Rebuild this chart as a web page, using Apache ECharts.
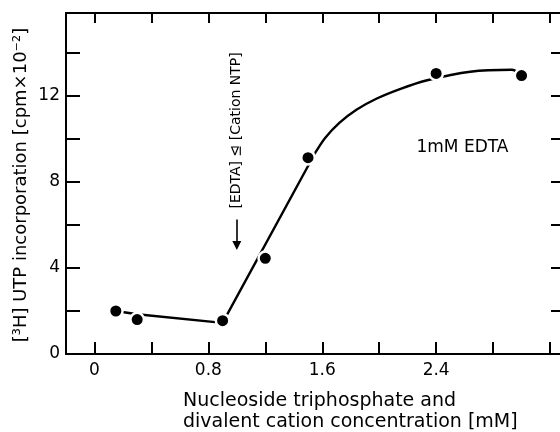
<!DOCTYPE html>
<html><head><meta charset="utf-8">
<script src="https://cdn.jsdelivr.net/npm/echarts@6/dist/echarts.min.js"></script>
<style>html,body{margin:0;padding:0;background:#fff}#c{width:560px;height:432px}</style>
</head><body><div id="c"></div>
<script>
// measured data points
const pointX = [0.15, 0.3, 0.9, 1.2, 1.5, 2.4, 3.0];
const pointY = [2.0, 1.6, 1.55, 4.45, 9.13, 13.05, 12.95];
// straight (hand-drawn) part of the fitted line
const lineX = [0.15, 0.3, 0.9, 1.55];
const lineY = [2.0, 1.85, 1.45, 9.35];
// curved part of the fitted line
const curveX = [1.55, 1.62, 1.72, 1.84, 1.98, 2.15, 2.33, 2.64, 2.93, 3.0];
const curveY = [9.35, 10.05, 10.75, 11.36, 11.87, 12.33, 12.72, 13.13, 13.22, 12.98];
// ticks and labels
const xTicks = [0, 0.4, 0.8, 1.2, 1.6, 2.0, 2.4, 2.8, 3.2];
const xTickLabels = [0, 0.8, 1.6, 2.4];
const yTicks = [0, 2, 4, 6, 8, 10, 12, 14];
const yRightTicks = [2, 4, 6, 8, 10, 12, 14];
const yTickLabels = [0, 4, 8, 12];

const FONT = '"DejaVu Sans", sans-serif';
const zip = (a, b) => a.map((v, i) => [v, b[i]]);

const chart = echarts.init(document.getElementById('c'), null, {renderer: 'canvas'});
const axisLineStyle = {color: '#000', width: 2};
const option = {
  animation: false,
  backgroundColor: '#fff',
  grid: {left: 66, top: 13, right: 0, bottom: 78},
  xAxis: [{
    type: 'value', min: -0.2, max: 3.27, position: 'bottom',
    axisLine: {show: true, onZero: false, lineStyle: axisLineStyle},
    axisTick: {show: true, inside: true, length: 12, customValues: xTicks, lineStyle: {color: '#000', width: 2}},
    axisLabel: {show: true, customValues: xTickLabels, margin: 8, color: '#000', fontSize: 17, fontFamily: FONT},
    splitLine: {show: false}
  }, {
    type: 'value', min: -0.2, max: 3.27, position: 'top',
    axisLine: {show: true, onZero: false, lineStyle: axisLineStyle},
    axisTick: {show: true, inside: true, length: 10, customValues: xTicks, lineStyle: {color: '#000', width: 2}},
    axisLabel: {show: false},
    splitLine: {show: false}
  }],
  yAxis: [{
    type: 'value', min: 0, max: 15.86, position: 'left',
    axisLine: {show: true, onZero: false, lineStyle: axisLineStyle},
    axisTick: {show: true, inside: true, length: 14, customValues: yTicks, lineStyle: {color: '#000', width: 2}},
    axisLabel: {show: true, customValues: yTickLabels, margin: 6, color: '#000', fontSize: 17, fontFamily: FONT},
    splitLine: {show: false}
  }, {
    type: 'value', min: 0, max: 15.86, position: 'right',
    axisLine: {show: false, onZero: false},
    axisTick: {show: true, inside: true, length: 9, customValues: yRightTicks, lineStyle: {color: '#000', width: 2}},
    axisLabel: {show: false},
    splitLine: {show: false}
  }],
  series: [{
    type: 'line', data: zip(lineX, lineY), showSymbol: false, symbol: 'none',
    lineStyle: {color: '#000', width: 2.4}, z: 2,
    markLine: {
      silent: true, symbol: ['none', 'triangle'], symbolSize: 9,
      lineStyle: {color: '#000', width: 1.6, type: 'solid'},
      itemStyle: {color: '#000'},
      label: {show: false},
      data: [[{coord: [1.0, 6.25]}, {coord: [1.0, 5.05]}]]
    }
  }, {
    type: 'line', data: zip(curveX, curveY), showSymbol: false, symbol: 'none', smooth: 0.3,
    lineStyle: {color: '#000', width: 2.4}, z: 2
  }, {
    type: 'scatter', data: zip(pointX, pointY), symbol: 'circle', symbolSize: 13.5,
    itemStyle: {color: '#000', borderColor: '#fff', borderWidth: 2.5, opacity: 1}, z: 3
  }]
};
chart.setOption(option);

const p1 = chart.convertToPixel({gridIndex: 0}, [1.0, 10.4]);
const p2 = chart.convertToPixel({gridIndex: 0}, [2.585, 9.58]);
chart.setOption({
  graphic: [{
    type: 'text', x: 21, y: 185, rotation: Math.PI / 2,
    style: {text: '[³H] UTP incorporation [cpm×10⁻²]', font: '18px ' + FONT, fill: '#000', align: 'center', verticalAlign: 'middle'}
  }, {
    type: 'text', x: 183, y: 401,
    style: {text: 'Nucleoside triphosphate and', font: '19px ' + FONT, fill: '#000', align: 'left', verticalAlign: 'middle'}
  }, {
    type: 'text', x: 183, y: 422,
    style: {text: 'divalent cation concentration [mM]', font: '19px ' + FONT, fill: '#000', align: 'left', verticalAlign: 'middle'}
  }, {
    type: 'text', x: p1[0], y: p1[1], rotation: Math.PI / 2,
    style: {text: '[EDTA] ⊴ [Cation NTP]', font: '14px ' + FONT, fill: '#000', align: 'center', verticalAlign: 'middle'}
  }, {
    type: 'text', x: p2[0], y: p2[1],
    style: {text: '1mM EDTA', font: '17px ' + FONT, fill: '#000', align: 'center', verticalAlign: 'middle'}
  }]
});
</script>
</body></html>
